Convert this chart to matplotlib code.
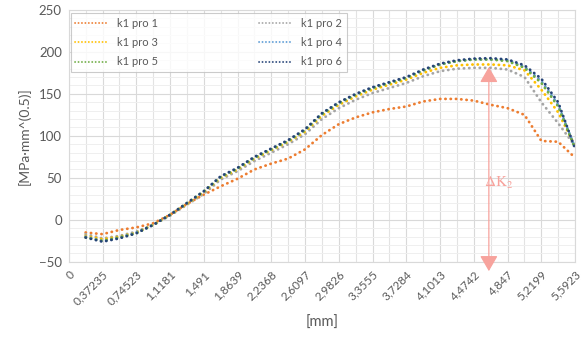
import numpy as np
import matplotlib
matplotlib.use("Agg")
import matplotlib.pyplot as plt
from matplotlib.ticker import FixedLocator, MultipleLocator

plt.rcParams["font.family"] = ["Lato", "DejaVu Sans"]
plt.rcParams["mathtext.fontset"] = "stix"

# category labels on the x axis (mm)
TICK_MM = [0, 0.37235, 0.74523, 1.1181, 1.491, 1.8639, 2.2368, 2.6097,
           2.9826, 3.3555, 3.7284, 4.1013, 4.4742, 4.847, 5.2199, 5.5923]
TICK_LABELS = ["0", "0,37235", "0,74523", "1,1181", "1,491", "1,8639", "2,2368",
               "2,6097", "2,9826", "3,3555", "3,7284", "4,1013", "4,4742",
               "4,847", "5,2199", "5,5923"]

X_MM = [0.186, 0.372, 0.559, 0.745, 0.932, 1.118, 1.305, 1.491, 1.678, 1.864,
        2.050, 2.237, 2.423, 2.610, 2.796, 2.983, 3.169, 3.355, 3.542, 3.728,
        3.915, 4.101, 4.288, 4.474, 4.661, 4.847, 5.034, 5.220, 5.406, 5.592]

PRO1 = [-15, -17, -12, -9, -4, 6, 19, 30, 40, 49, 60, 67, 73, 84, 101, 114,
        122, 128, 132, 135, 141, 144, 144, 142, 137, 133, 125, 94, 93, 74]
PRO2 = [-17, -22, -19, -14, -6, 5, 18, 31, 48, 58, 70, 80, 90, 102, 120, 133,
        143, 151, 157, 163, 171, 177, 180, 181, 181, 179, 170, 140, 115, 88]
PRO3 = [-19, -23, -20, -15, -6, 6, 19, 33, 50, 60, 73, 83, 93, 105, 124, 137,
        147, 155, 161, 167, 175, 181, 184, 185, 185, 184, 178, 155, 128, 88]
PRO4 = [-20, -25, -21, -15, -6, 6, 20, 34, 51, 61, 74, 84, 94, 107, 126, 139,
        149, 157, 163, 169, 178, 185, 189, 191, 191, 190, 182, 165, 137, 86]
PRO5 = [-21, -25, -21, -16, -6, 6, 20, 34, 51, 61, 74, 84, 94, 107, 126, 139,
        149, 157, 163, 169, 178, 185, 189, 191, 191, 189, 181, 163, 135, 85]
PRO6 = [-21, -26, -22, -16, -6, 6, 20, 34, 52, 62, 75, 85, 95, 108, 127, 140,
        150, 158, 164, 170, 179, 186, 190, 192, 192.5, 191, 184, 168, 140, 85]

SERIES = [
    ("k1 pro 1", PRO1, "#ED7D31"),
    ("k1 pro 2", PRO2, "#A5A5A5"),
    ("k1 pro 3", PRO3, "#FFC000"),
    ("k1 pro 4", PRO4, "#5B9BD5"),
    ("k1 pro 5", PRO5, "#70AD47"),
    ("k1 pro 6", PRO6, "#264478"),
]

ARROW_X = 4.64
ARROW_TOP = 182
ARROW_BOTTOM = -61
ARROW_COLOR = "#F7A39D"
TEXT_COLOR = "#595959"

fig = plt.figure(figsize=(5.88, 3.41), dpi=100)
ax = fig.add_axes([0.117, 0.232, 0.861, 0.739])

for label, vals, color in SERIES:
    ax.plot(X_MM, vals, color=color, linewidth=2.0,
            linestyle=(0, (0.1, 1.8)), dash_capstyle="round", label=label)

ax.set_xlim(0, 5.5923)
ax.set_ylim(-50, 250)

ax.xaxis.set_major_locator(FixedLocator(TICK_MM))
minor = [(a + b) / 2 for a, b in zip(TICK_MM[:-1], TICK_MM[1:])]
ax.xaxis.set_minor_locator(FixedLocator(minor))
ax.set_xticklabels(TICK_LABELS, rotation=45, ha="right", rotation_mode="anchor",
                   fontsize=8.5, color=TEXT_COLOR)
ax.yaxis.set_major_locator(MultipleLocator(50))
ax.yaxis.set_minor_locator(MultipleLocator(10))
ax.tick_params(axis="y", labelsize=9.5, colors=TEXT_COLOR)
ax.tick_params(which="both", length=0, pad=5)

ax.grid(which="major", color="#D9D9D9", linewidth=0.8)
ax.grid(which="minor", axis="x", color="#E3E3E3", linewidth=0.8)
ax.grid(which="minor", axis="y", color="#EFEFEF", linewidth=0.7)
ax.set_axisbelow(True)
for side in ax.spines.values():
    side.set_color("#D9D9D9")
    side.set_linewidth(0.8)

ax.set_ylabel("[MPa·mm^(0.5)]", fontsize=10, color=TEXT_COLOR, labelpad=6)
ax.set_xlabel("[mm]", fontsize=10.5, color=TEXT_COLOR, labelpad=6)

ax.annotate("", xy=(ARROW_X, ARROW_TOP), xytext=(ARROW_X, ARROW_BOTTOM),
            arrowprops=dict(arrowstyle="<|-|>,head_length=0.95,head_width=0.55",
                            color=ARROW_COLOR, lw=0.9, shrinkA=0, shrinkB=0),
            annotation_clip=False)
ax.text(4.585, 44, r"$\Delta\mathrm{K}_2$", color=ARROW_COLOR, fontsize=11,
        ha="left", va="center")

handles, labels = ax.get_legend_handles_labels()
order = [0, 2, 4, 1, 3, 5]
leg = ax.legend([handles[i] for i in order], [labels[i] for i in order],
                ncol=2, mode="expand", loc="lower left",
                bbox_to_anchor=(0.004, 0.754, 0.545, 0.234),
                fontsize=8, handlelength=3.0, frameon=True, fancybox=False,
                edgecolor="#BFBFBF", borderaxespad=0, labelspacing=0.75,
                labelcolor=TEXT_COLOR)
leg.get_frame().set_linewidth(0.8)
for line in leg.get_lines():
    line.set_linewidth(1.3)

fig.savefig("out.png", dpi=100, facecolor="white")
